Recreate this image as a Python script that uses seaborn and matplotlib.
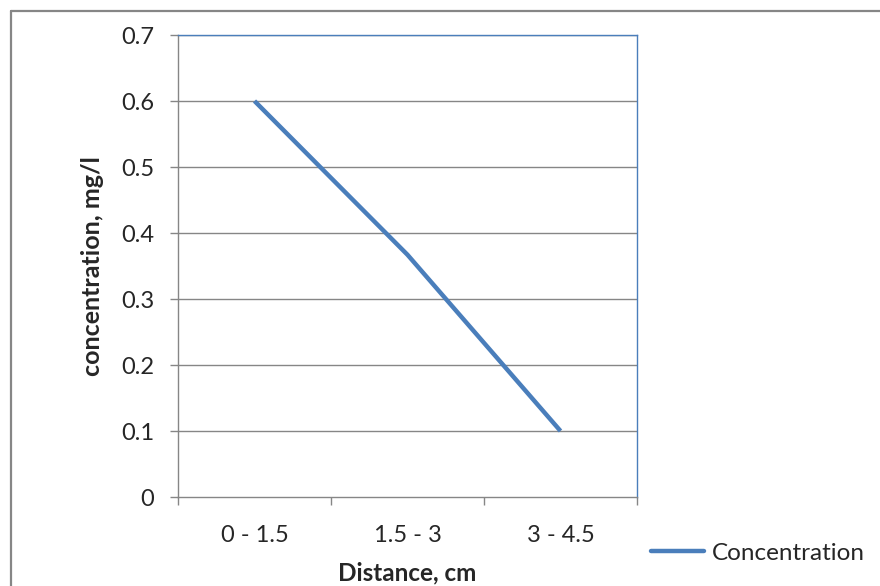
import matplotlib
matplotlib.use("Agg")
import matplotlib.pyplot as plt
import seaborn as sns
import pandas as pd
from matplotlib.lines import Line2D

categories = ["0 - 1.5", "1.5 - 3", "3 - 4.5"]
concentration = [0.6, 0.367, 0.1]
yticks = [0, 0.1, 0.2, 0.3, 0.4, 0.5, 0.6, 0.7]
ytick_labels = ["0", "0.1", "0.2", "0.3", "0.4", "0.5", "0.6", "0.7"]

sns.set_style("white")
plt.rcParams['font.family'] = ['Lato', 'DejaVu Sans']

df = pd.DataFrame({"Distance": categories, "Concentration": concentration,
                   "pos": range(len(categories))})

fig = plt.figure(figsize=(8.8, 5.86), dpi=100)
ax = fig.add_axes([178/880, 1-497/586, (637-178)/880, (497-35)/586])

blue = "#4A7EBB"
grey = "#868686"
FS = 17

ax.set_ylim(0, 0.7)
ax.set_xlim(-0.5, 2.5)
ax.set_yticks(yticks)
ax.set_yticklabels(ytick_labels)
for y in yticks[1:]:
    ax.axhline(y, color=grey, lw=1.0, zorder=1)

sns.lineplot(data=df, x="pos", y="Concentration", ax=ax, color=blue,
             lw=3.2, solid_capstyle="butt", zorder=3, legend=False)

ax.set_xticks([0, 1, 2])
ax.set_xticklabels(categories)
ax.set_xticks([-0.5, 0.5, 1.5, 2.5], minor=True)
ax.tick_params(axis="x", which="major", bottom=True, length=0, pad=20, labelsize=FS)
ax.tick_params(axis="x", which="minor", bottom=True, length=6, width=1, color=grey, direction="out")
ax.tick_params(axis="y", which="major", left=True, length=6, width=1, color=grey,
               direction="out", labelsize=FS, pad=11)

for s in ["left", "bottom"]:
    ax.spines[s].set_color(grey)
    ax.spines[s].set_linewidth(1.0)
for s in ["top", "right"]:
    ax.spines[s].set_color(blue)
    ax.spines[s].set_linewidth(1.0)

ax.set_xlabel("Distance, cm", fontsize=17.5, fontweight="bold")
ax.set_ylabel("concentration, mg/l", fontsize=18, fontweight="bold")
ax.xaxis.set_label_coords(0.5, (497-561)/462)
ax.yaxis.set_label_coords((104-178)/459, 0.5)

handle = Line2D([0], [0], color=blue, lw=3.2, solid_capstyle="round")
fig.legend([handle], ["Concentration"], loc="center left",
           bbox_to_anchor=(651/880, 1-553/586), frameon=False, fontsize=17.5,
           handlelength=2.2, handletextpad=0.3, borderpad=0, borderaxespad=0)

# outer chart border (only left and top edges visible in the crop)
fig.add_artist(Line2D([10.5/880, 10.5/880], [0, 1-10.5/586], transform=fig.transFigure,
                      color=grey, lw=1.6))
fig.add_artist(Line2D([10.5/880, 1], [1-10.5/586, 1-10.5/586], transform=fig.transFigure,
                      color=grey, lw=1.6))

fig.savefig("out.png", dpi=100)
